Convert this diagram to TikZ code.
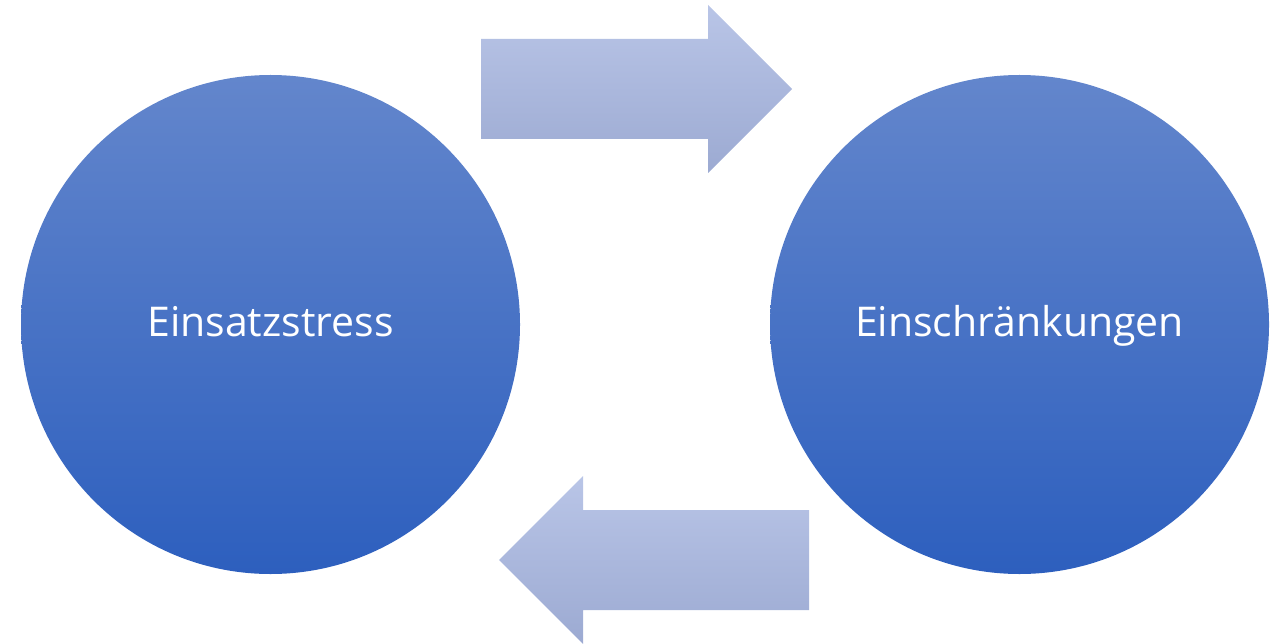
\documentclass[tikz,border=0pt]{standalone}
\usepackage{fontspec}
\setmainfont{Open Sans}
\definecolor{ringtop}{HTML}{6386CC}
\definecolor{ringbot}{HTML}{2D5FBE}
\definecolor{arrtop}{HTML}{B9C5E7}
\definecolor{arrbot}{HTML}{9CAAD2}
\tikzset{
    ring/.style={circle, minimum size=499pt, inner sep=0pt, top color=ringtop, bottom color=ringbot,
        text=white, text height=23pt, text depth=0pt, font=\fontsize{41}{49}\selectfont},
    flowarrow/.style={top color=arrtop, bottom color=arrbot, draw=none}
}
\begin{document}
\begin{tikzpicture}[x=1pt, y=-1pt]
    \useasboundingbox (0, 0) rectangle (1281, 644);
    \node[ring] (stress) at (270.5, 324.5) {Einsatzstress};
    \node[ring] (limits) at (1019.5, 324.5) {Einschränkungen};
    % arrow stress -> limits
    \shade[flowarrow] (481, 39) -- (708, 39) -- (708, 5) -- (792, 89) -- (708, 173)
        -- (708, 139) -- (481, 139) -- cycle;
    % arrow limits -> stress
    \shade[flowarrow] (809, 510) -- (583, 510) -- (583, 476) -- (499, 560) -- (583, 644)
        -- (583, 610) -- (809, 610) -- cycle;
\end{tikzpicture}
\end{document}
